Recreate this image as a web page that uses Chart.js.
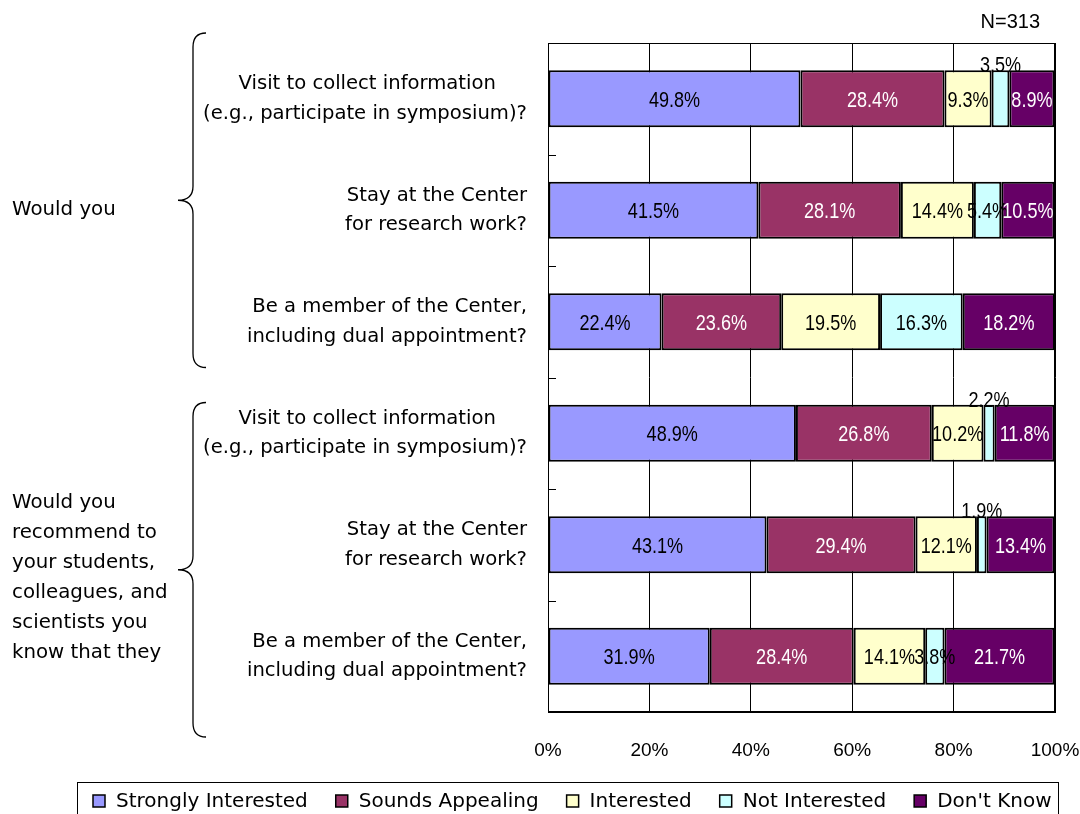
<!doctype html>
<html>
<head>
<title>Interest in the Center</title>
<script src="https://cdn.jsdelivr.net/npm/chart.js"></script>
<style>
  html, body { margin: 0; padding: 0; background: #fff; }
  #wrap { width: 1080px; height: 814px; }
</style>
</head>
<body>
<div id="wrap"><canvas id="chart" width="1080" height="814"></canvas></div>
<script>
// ---- data ----
var categories = [
    ['Visit to collect information     ', '(e.g., participate in symposium)?'],
    ['Stay at the Center', 'for research work?'],
    ['Be a member of the Center,', 'including dual appointment?'],
    ['Visit to collect information     ', '(e.g., participate in symposium)?'],
    ['Stay at the Center', 'for research work?'],
    ['Be a member of the Center,', 'including dual appointment?']
];
var seriesNames = ['Strongly Interested', 'Sounds Appealing', 'Interested', 'Not Interested', "Don't Know"];
var stronglyInterested = [49.8, 41.5, 22.4, 48.9, 43.1, 31.9];
var soundsAppealing = [28.4, 28.1, 23.6, 26.8, 29.4, 28.4];
var interested = [9.3, 14.4, 19.5, 10.2, 12.1, 14.1];
var notInterested = [3.5, 5.4, 16.3, 2.2, 1.9, 3.8];
var dontKnow = [8.9, 10.5, 18.2, 11.8, 13.4, 21.7];
var groupLabels = [
    ['Would you'],
    ['Would you', 'recommend to', 'your students,', 'colleagues, and', 'scientists you', 'know that they']
];
var groupFirst = [0, 3];
var xTicks = [0, 20, 40, 60, 80, 100];
var sampleNote = 'N=313';

var colors = ['#9999FF', '#993366', '#FFFFCC', '#CCFFFF', '#660066'];
var labelColors = ['#000', '#fff', '#000', '#000', '#fff'];
var sans = "'Liberation Sans', Arial, sans-serif";
var gothic = "'DejaVu Sans', sans-serif";

var allSeries = [stronglyInterested, soundsAppealing, interested, notInterested, dontKnow];
var datasets = allSeries.map(function (vals, i) {
    return {
        label: seriesNames[i],
        data: vals,
        backgroundColor: colors[i],
        borderColor: '#000',
        borderWidth: 2,
        borderSkipped: false,
        categoryPercentage: 1,
        barPercentage: 0.51
    };
});

// frame, inside tick marks, braces, group labels, note, legend
var decor = {
    id: 'decor',
    beforeDatasetsDraw: function (chart) {
        var ctx = chart.ctx, a = chart.chartArea, y = chart.scales.y;
        ctx.save();
        ctx.strokeStyle = '#000';
        ctx.lineWidth = 1;
        ctx.strokeRect(a.left + 0.5, a.top + 0.5, a.right - a.left - 1, a.bottom - a.top - 1);
        for (var i = 1; i < categories.length; i++) {
            var yy = Math.round((y.getPixelForValue(i - 1) + y.getPixelForValue(i)) / 2) + 0.5;
            ctx.beginPath();
            ctx.moveTo(a.left, yy);
            ctx.lineTo(a.left + 8, yy);
            ctx.stroke();
        }
        ctx.restore();
    },
    afterDraw: function (chart) {
        var ctx = chart.ctx, y = chart.scales.y;
        var step = Math.abs(y.getPixelForValue(1) - y.getPixelForValue(0));
        var shifts = [-10, 25];
        var textShifts = [10, 8];
        ctx.save();
        ctx.strokeStyle = '#000';
        ctx.lineWidth = 1.3;
        groupFirst.forEach(function (first, g) {
            var mid = y.getPixelForValue(first + 1) + shifts[g];
            var top = mid - step * 1.5, bottom = mid + step * 1.5;
            var xEnd = 206, xStem = 193, xTip = 178, r = 14;
            ctx.beginPath();
            ctx.moveTo(xEnd, top);
            ctx.quadraticCurveTo(xStem, top, xStem, top + r);
            ctx.lineTo(xStem, mid - r);
            ctx.quadraticCurveTo(xStem, mid, xTip, mid);
            ctx.quadraticCurveTo(xStem, mid, xStem, mid + r);
            ctx.lineTo(xStem, bottom - r);
            ctx.quadraticCurveTo(xStem, bottom, xEnd, bottom);
            ctx.stroke();

            var lines = groupLabels[g];
            var lh = 30;
            ctx.fillStyle = '#000';
            ctx.font = '19.8px ' + gothic;
            ctx.textAlign = 'left';
            ctx.textBaseline = 'middle';
            var start = mid + textShifts[g] - (lines.length - 1) * lh / 2;
            lines.forEach(function (t, k) { ctx.fillText(t, 12, start + k * lh); });
        });
        ctx.font = '20px ' + sans;
        ctx.textAlign = 'right';
        ctx.textBaseline = 'middle';
        ctx.fillText(sampleNote, chart.chartArea.right - 15, 22);

        // legend box
        var lx = 77, lr = 1058, ly = 782;
        ctx.lineWidth = 1;
        ctx.strokeRect(lx + 0.5, ly + 0.5, lr - lx, 40);
        ctx.font = '20px ' + gothic;
        ctx.textAlign = 'left';
        var widths = seriesNames.map(function (n) { return ctx.measureText(n).width; });
        var box = 12, gapBox = 11, gapItem = 28;
        var x = lx + 16;
        var cy = 801;
        seriesNames.forEach(function (n, i) {
            ctx.fillStyle = colors[i];
            ctx.fillRect(x, cy - box / 2, box, box);
            ctx.strokeStyle = '#000';
            ctx.lineWidth = 1.5;
            ctx.strokeRect(x, cy - box / 2, box, box);
            ctx.fillStyle = '#000';
            ctx.fillText(n, x + box + gapBox, cy + 1);
            x += box + gapBox + widths[i] + gapItem;
        });
        ctx.restore();
    }
};

// percentage labels on the bars (condensed)
var barLabels = {
    id: 'barLabels',
    afterDatasetsDraw: function (chart) {
        var ctx = chart.ctx;
        var sx = 0.84;
        ctx.save();
        ctx.font = '21.5px ' + sans;
        ctx.textAlign = 'center';
        chart.data.datasets.forEach(function (ds, i) {
            var meta = chart.getDatasetMeta(i);
            meta.data.forEach(function (el, j) {
                var v = ds.data[j];
                var cx = (el.x + el.base) / 2;
                var txt = v.toFixed(1) + '%';
                ctx.save();
                ctx.scale(sx, 1);
                if (v < 3.6) {
                    ctx.fillStyle = '#000';
                    ctx.textBaseline = 'alphabetic';
                    ctx.fillText(txt, cx / sx, el.y - el.height / 2 + 2);
                } else {
                    ctx.fillStyle = labelColors[i];
                    ctx.textBaseline = 'middle';
                    ctx.fillText(txt, cx / sx, el.y + 2);
                }
                ctx.restore();
            });
        });
        ctx.restore();
    }
};

new Chart(document.getElementById('chart').getContext('2d'), {
    type: 'bar',
    data: { labels: categories, datasets: datasets },
    options: {
        indexAxis: 'y',
        responsive: false,
        animation: false,
        layout: { padding: { top: 43, right: 25, bottom: 53, left: 0 } },
        scales: {
            x: {
                stacked: true,
                min: 0,
                max: 100,
                afterBuildTicks: function (scale) {
                    scale.ticks = xTicks.map(function (v) { return { value: v }; });
                },
                afterFit: function (scale) {
                    scale.paddingLeft = 0;
                    scale.paddingRight = 0;
                    scale.height = 49;
                },
                ticks: {
                    callback: function (v) { return v + '%'; },
                    color: '#000',
                    font: { family: sans, size: 19 },
                    padding: 27,
                    maxRotation: 0
                },
                grid: { color: '#000', lineWidth: 1, drawTicks: false },
                border: { color: '#000' }
            },
            y: {
                stacked: true,
                afterFit: function (scale) {
                    scale.width = 548;
                    scale.paddingTop = 0;
                    scale.paddingBottom = 0;
                },
                ticks: {
                    color: '#000',
                    font: { family: gothic, size: 19.6, lineHeight: 1.51 },
                    padding: 21
                },
                grid: { display: false, drawTicks: false },
                border: { display: false }
            }
        },
        plugins: {
            legend: { display: false },
            tooltip: { enabled: false }
        }
    },
    plugins: [decor, barLabels]
});
</script>
</body>
</html>
